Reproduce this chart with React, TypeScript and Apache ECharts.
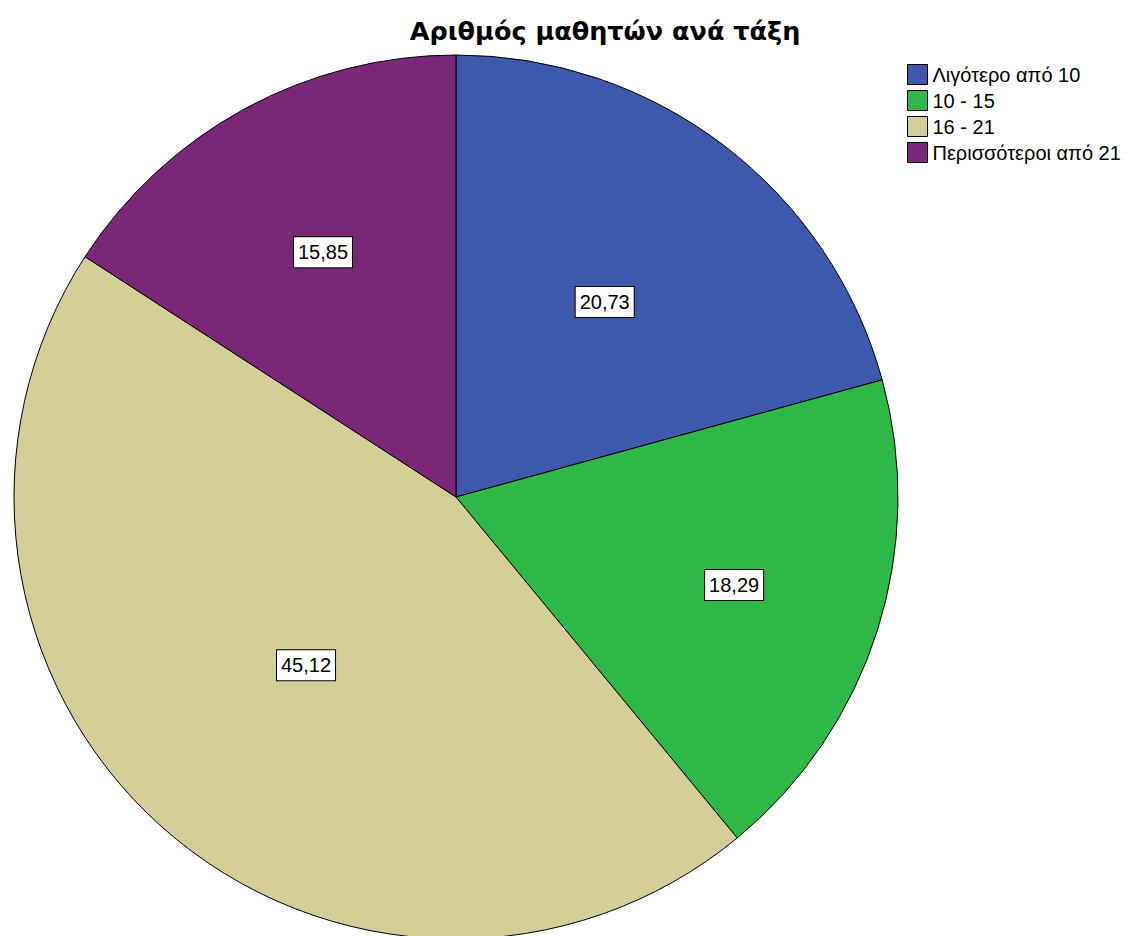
import React, { useEffect, useRef } from "react";
import * as echarts from "echarts";

const title = "Αριθμός μαθητών ανά τάξη";
const categories = ["Λιγότερο από 10", "10 - 15", "16 - 21", "Περισσότεροι από 21"];
const values = [20.73, 18.29, 45.12, 15.85];
const colors = ["#3E58AC", "#2EB848", "#D3CE97", "#7A2679"];
const labelRadiusFrac = [0.555, 0.66, 0.51, 0.63];

const CX = 456;
const CY = 497;
const R = 442;

export default function App() {
  const ref = useRef<HTMLDivElement>(null);
  useEffect(() => {
    if (!ref.current) return;
    const chart = echarts.init(ref.current, null, { renderer: "svg" });
    const total = values.reduce((a, b) => a + b, 0);
    const mids: number[] = [];
    let acc = 0;
    values.forEach((v) => {
      mids.push(((acc + v / 2) / total) * Math.PI * 2);
      acc += v;
    });
    chart.setOption({
      animation: false,
      backgroundColor: "#ffffff",
      textStyle: { fontFamily: "Liberation Sans, Arial, sans-serif" },
      title: {
        text: title,
        left: 600,
        top: 13,
        textAlign: "center",
        textStyle: { fontSize: 25.5, fontWeight: "bold", color: "#000", fontFamily: "DejaVu Sans, sans-serif" },
      },
      legend: {
        orient: "vertical",
        left: 902,
        top: 59,
        icon: "rect",
        itemWidth: 20,
        itemHeight: 20,
        itemGap: 5,
        itemStyle: { borderColor: "#000", borderWidth: 1 },
        textStyle: { fontSize: 20, color: "#000" },
        data: categories,
      },
      series: [
        {
          type: "pie",
          center: [CX, CY],
          radius: R,
          startAngle: 90,
          clockwise: true,
          avoidLabelOverlap: false,
          itemStyle: { borderColor: "#000", borderWidth: 1 },
          emphasis: { disabled: true },
          label: {
            show: true,
            position: "inside",
            formatter: (p: any) => p.value.toFixed(2).replace(".", ","),
            fontSize: 20,
            color: "#000",
            backgroundColor: "#fff",
            borderColor: "#000",
            borderWidth: 1,
            padding: [6, 4, 4, 4],
            fontFamily: "Liberation Sans, Arial, sans-serif",
          },
          labelLine: { show: false },
          labelLayout: (params: any) => {
            const i = params.dataIndex;
            const a = mids[i];
            const d = labelRadiusFrac[i] * R;
            return { x: CX + Math.sin(a) * d, y: CY - Math.cos(a) * d, align: "center", verticalAlign: "middle" };
          },
          data: categories.map((c, i) => ({ name: c, value: values[i], itemStyle: { color: colors[i] } })),
        },
      ],
    });
    return () => chart.dispose();
  }, []);
  return <div ref={ref} style={{ position: "fixed", left: 0, top: 0, width: 1126, height: 936 }} />;
}
